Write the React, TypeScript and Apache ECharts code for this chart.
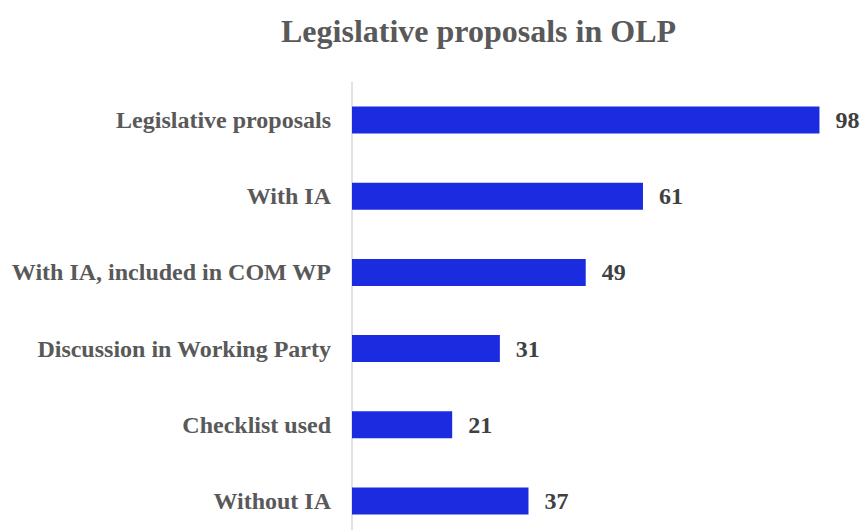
import React, { useEffect, useRef } from "react";
import * as echarts from "echarts";

const categories = [
  "Legislative proposals",
  "With IA",
  "With IA, included in COM WP",
  "Discussion in Working Party",
  "Checklist used",
  "Without IA",
];
const values = [98, 61, 49, 31, 21, 37];
const titleText = "Legislative proposals in OLP";

const FONT = "'Times New Roman', 'Liberation Serif', serif";

export default function App() {
  const ref = useRef<HTMLDivElement>(null);
  useEffect(() => {
    if (!ref.current) return;
    const chart = echarts.init(ref.current, undefined, { renderer: "svg" });
    chart.setOption({
      animation: false,
      backgroundColor: "#ffffff",
      title: {
        text: titleText,
        left: 276,
        top: 10,
        textStyle: {
          fontFamily: FONT,
          fontWeight: "bold",
          fontSize: 32,
          color: "#595959",
        },
      },
      grid: {
        left: 352,
        width: 477,
        top: 82,
        height: 457,
        containLabel: false,
        outerBoundsMode: "none",
      },
      xAxis: {
        type: "value",
        min: 0,
        max: 100,
        show: false,
      },
      yAxis: {
        type: "category",
        data: categories,
        inverse: true,
        axisLine: { show: true, lineStyle: { color: "#d9d9d9", width: 1.5 } },
        axisTick: { show: false },
        axisLabel: {
          margin: 21,
          fontFamily: FONT,
          fontWeight: "bold",
          fontSize: 24,
          color: "#595959",
        },
      },
      series: [
        {
          type: "bar",
          data: values,
          barWidth: 27,
          itemStyle: { color: "#1b2be0" },
          label: {
            show: true,
            position: "right",
            distance: 16,
            fontFamily: FONT,
            fontWeight: "bold",
            fontSize: 24,
            color: "#404040",
          },
        },
      ],
    });
    return () => chart.dispose();
  }, []);
  return (
    <div
      ref={ref}
      style={{ position: "absolute", left: 0, top: 0, width: 864, height: 530 }}
    />
  );
}
